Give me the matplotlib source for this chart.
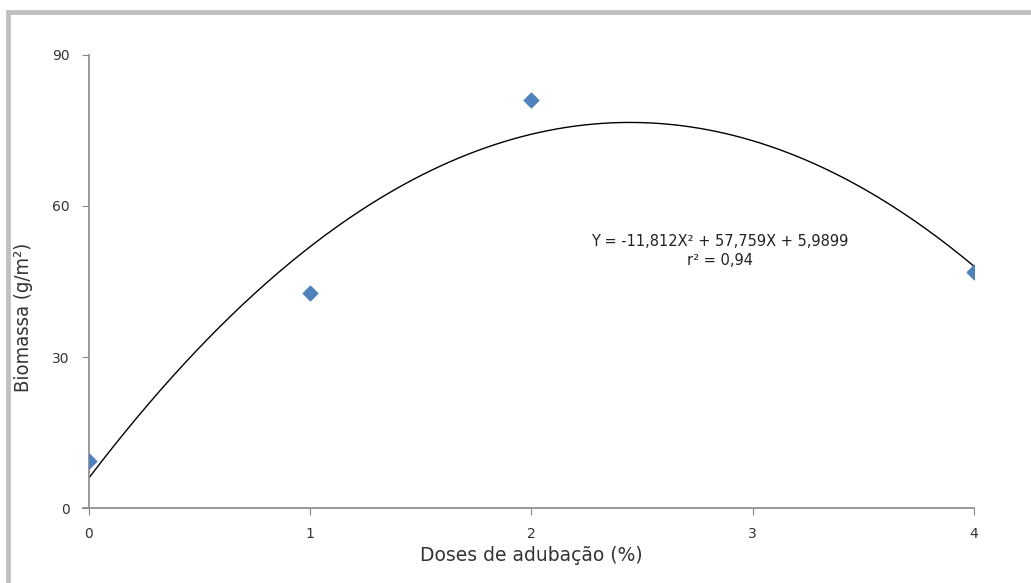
import numpy as np
import matplotlib
matplotlib.use('Agg')
import matplotlib.pyplot as plt
from matplotlib.patches import Rectangle

# dados
doses = [0, 1, 2, 4]
biomassa = [9.3, 42.7, 81.0, 46.9]
coef = [-11.812, 57.759, 5.9899]  # Y = aX^2 + bX + c

fig = plt.figure(figsize=(10.31, 5.83), dpi=100)
ax = fig.add_axes([0.0863, 0.1286, 0.8584, 0.7771])

xs = np.linspace(0, 4, 300)
ax.plot(xs, np.polyval(coef, xs), color='black', lw=1.0)
ax.scatter(doses, biomassa, marker='D', s=55, color='#4F81BD', zorder=3)

ax.set_xlim(0, 4)
ax.set_ylim(0, 90)
ax.set_xticks([0, 1, 2, 3, 4])
ax.set_yticks([0, 30, 60, 90])
for s in ['top', 'right']:
    ax.spines[s].set_visible(False)
for s in ['left', 'bottom']:
    ax.spines[s].set_color('#888888')
    ax.spines[s].set_linewidth(1.2)
ax.spines['bottom'].set_bounds(-0.025, 4)
ax.tick_params(direction='out', length=5, color='#888888', labelsize=10,
               labelcolor='#333333', pad=9)
ax.tick_params(axis='y', pad=9)

ax.set_xlabel('Doses de adubação (%)', fontsize=13.5, color='#333333', labelpad=3)
ax.set_ylabel('Biomassa (g/m²)', fontsize=14.5, color='#333333',
              family=['Liberation Sans Narrow', 'DejaVu Sans'], stretch='condensed')
ax.yaxis.set_label_coords(-0.063, 0.42)

ax.text(2.852, 53.0, 'Y = -11,812X² + 57,759X + 5,9899', fontsize=10.5,
        ha='center', va='center', color='#222222')
ax.text(2.852, 49.1, 'r² = 0,94', fontsize=10.5, ha='center', va='center',
        color='#222222')

fig.patches.append(Rectangle((8 / 1031, -0.1), 1.2, 1 - 12 / 583 + 0.1,
                             transform=fig.transFigure, fill=False,
                             edgecolor='#C0C0C0', lw=3.5))

fig.savefig('out.png', dpi=100)
